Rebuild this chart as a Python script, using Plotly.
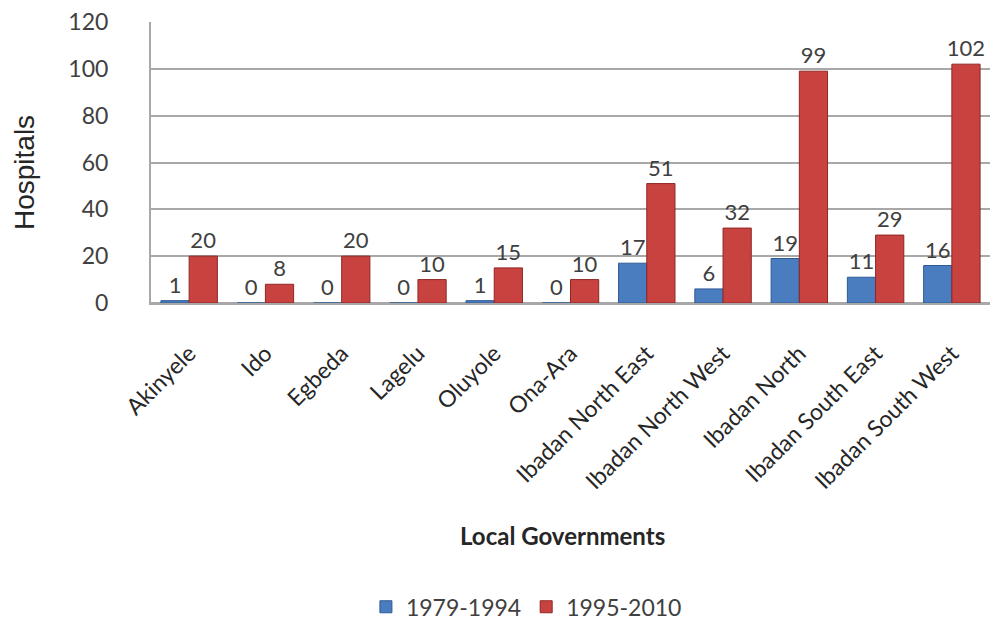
import plotly.graph_objects as go

categories = ["Akinyele", "Ido", "Egbeda", "Lagelu", "Oluyole", "Ona-Ara",
              "Ibadan North East", "Ibadan North West", "Ibadan North",
              "Ibadan South East", "Ibadan South West"]
s1979_1994 = [1, 0, 0, 0, 1, 0, 17, 6, 19, 11, 16]
s1995_2010 = [20, 8, 20, 10, 15, 10, 51, 32, 99, 29, 102]
y_ticks = [0, 20, 40, 60, 80, 100, 120]

TXT = "#404040"
font_main = "Lato, Carlito, Calibri, 'Open Sans', sans-serif"

fig = go.Figure()
fig.add_trace(go.Bar(
    x=categories, y=s1979_1994, name="1979-1994",
    marker=dict(color="#4A7CC0", line=dict(color="#2F5A94", width=1)),
    text=[str(v) for v in s1979_1994], textposition="outside",
    textfont=dict(size=22, color=TXT, family=font_main),
    constraintext="none", cliponaxis=False,
))
fig.add_trace(go.Bar(
    x=categories, y=s1995_2010, name="1995-2010",
    marker=dict(color="#C8433F", line=dict(color="#8E2724", width=1)),
    text=[str(v) for v in s1995_2010], textposition="outside",
    textfont=dict(size=22, color=TXT, family=font_main),
    constraintext="none", cliponaxis=False,
))

fig.update_layout(
    width=997, height=623,
    margin=dict(l=151, r=7, t=22, b=320, autoexpand=False),
    paper_bgcolor="white", plot_bgcolor="white",
    barmode="group", bargap=0.26, bargroupgap=0.0,
    font=dict(family=font_main, color=TXT, size=22),
    showlegend=True,
    legend=dict(orientation="h", x=0.528, xanchor="center",
                yref="container", y=0.026, yanchor="middle",
                xref="container",
                font=dict(size=23, color=TXT, family=font_main),
                itemwidth=30, traceorder="normal"),
    annotations=[
        dict(text="<b>Local Governments</b>", x=0.49, y=-0.826, xref="paper", yref="paper",
             showarrow=False, font=dict(size=24, color="#262626", family=font_main),
             xanchor="center", yanchor="middle"),
        dict(text="Hospitals", x=-0.15, y=0.463, xref="paper", yref="paper",
             showarrow=False, textangle=-90,
             font=dict(size=28, color="#262626",
                       family="'Liberation Sans', Arial, sans-serif"),
             xanchor="center", yanchor="middle"),
    ],
)
fig.update_yaxes(
    range=[0, 120], tickvals=y_ticks, ticktext=[str(v) for v in y_ticks],
    showgrid=True, gridcolor="#A8A8A8", gridwidth=2,
    zeroline=True, zerolinecolor="#A8A8A8", zerolinewidth=2,
    showline=True, linecolor="#A8A8A8", linewidth=2,
    ticks="", ticklabelstandoff=36,
    tickfont=dict(size=23, color=TXT, family=font_main),
    automargin=False,
)
fig.update_xaxes(
    tickangle=-45, ticks="", ticklabelstandoff=26,
    tickfont=dict(size=23, color="#262626", family=font_main),
    showline=True, linecolor="#A8A8A8", linewidth=2,
    automargin=False,
)

fig.write_html("out.html")
